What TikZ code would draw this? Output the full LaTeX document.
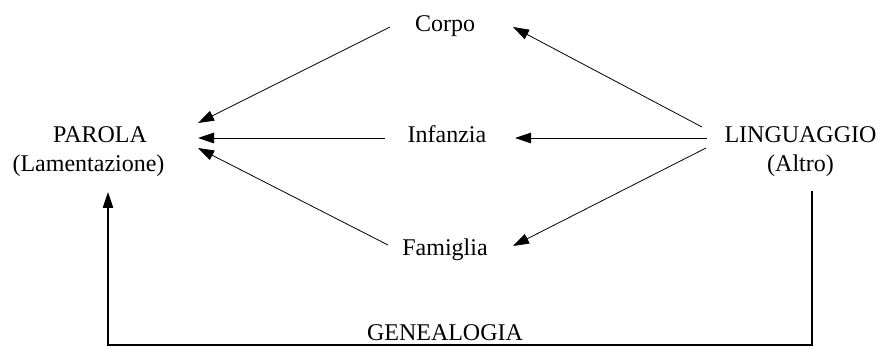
\documentclass[tikz,border=0pt]{standalone}
\usepackage{fontspec}
\setmainfont{Liberation Serif}
\usetikzlibrary{arrows.meta,calc}
\begin{document}
\begin{tikzpicture}[x=1pt,y=-1pt,
  lbl/.style={inner sep=0pt,font=\fontsize{24}{29}\selectfont},
  arr/.style={line width=0.8pt,-{Triangle[length=16pt,width=10.5pt]}},
  gen/.style={line width=1.1pt,-{Triangle[length=16pt,width=10.5pt]}}]
\useasboundingbox (0,0) rectangle (883,347);
\node[lbl,anchor=base] (corpo) at (445,32) {Corpo};
\node[lbl,anchor=base] (infanzia) at (447,143) {Infanzia};
\node[lbl,anchor=base] (famiglia) at (445,255) {Famiglia};
\node[lbl,anchor=base] (genealogia) at (445,340) {GENEALOGIA};
\node[lbl,align=center] (parola) at (88.5,152) {\hspace*{23pt}PAROLA\\(Lamentazione)};
\node[lbl,align=center] (ling) at (800.5,152) {LINGUAGGIO\\(Altro)};
% to PAROLA
\draw[arr] ($(corpo.base)+(-55,-5)$) -- ($(parola.center)+(109.5,-29)$);
\draw[arr] ($(infanzia.base)+(-62,-5)$) -- ($(parola.center)+(109.5,-14)$);
\draw[arr] ($(famiglia.base)+(-57,-10)$) -- ($(parola.center)+(109.5,-4)$);
% from LINGUAGGIO
\draw[arr] ($(ling.center)+(-98.5,-25)$) -- ($(corpo.base)+(68,-5)$);
\draw[arr] ($(ling.center)+(-93.5,-14)$) -- ($(infanzia.base)+(68,-5)$);
\draw[arr] ($(ling.center)+(-94.5,-4)$) -- ($(famiglia.base)+(68,-9)$);
% genealogy
\draw[gen] ($(ling.center)+(11.5,39)$) -- ++(0,154) -| ($(parola.center)+(19.5,40)$);
\end{tikzpicture}
\end{document}
